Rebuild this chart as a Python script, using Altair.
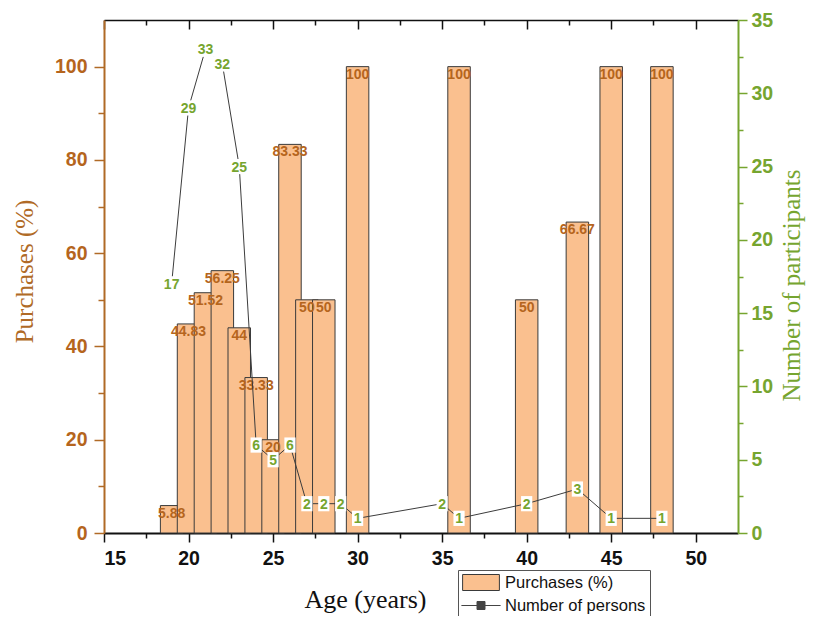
import altair as alt
import pandas as pd

# ---- data ----
bar_age = [19, 20, 21, 22, 23, 24, 25, 26, 27, 28, 30, 36, 40, 43, 45, 48]
bar_pct = [5.88, 44.83, 51.52, 56.25, 44, 33.33, 20, 83.33, 50, 50, 100, 100, 50, 66.67, 100, 100]
line_age = [19, 20, 21, 22, 23, 24, 25, 26, 27, 28, 29, 30, 35, 36, 40, 43, 45, 48]
line_n = [17, 29, 33, 32, 25, 6, 5, 6, 2, 2, 2, 1, 2, 1, 2, 3, 1, 1]
series_names = ["Purchases (%)", "Number of persons"]
x_major = [15, 20, 25, 30, 35, 40, 45, 50]
x_minor = [17.5, 22.5, 27.5, 32.5, 37.5, 42.5, 47.5]
yl_major = [0, 20, 40, 60, 80, 100]
yl_minor = [10, 30, 50, 70, 90]
yr_major = [0, 5, 10, 15, 20, 25, 30, 35]
yr_minor = [2.5, 7.5, 12.5, 17.5, 22.5, 27.5, 32.5]

bar_df = pd.DataFrame({"age": bar_age, "pct": bar_pct})
line_df = pd.DataFrame({"age": line_age, "n": line_n})
legend_df = pd.DataFrame({"series": series_names})

# ---- styles ----
W, H = 634, 513
BW = 1.33
BROWN = "#B06A26"
BROWN_TXT = "#B5651D"
GREEN = "#76A52F"
PEACH = "#FAC08F"
BAR_EDGE = "#3A3A3A"
LINE_COL = "#3C3C3C"
SANS = "Liberation Sans"
SERIF = "Liberation Serif"

xs = alt.Scale(domain=[15, 52.5], nice=False, zero=False)
ysl = alt.Scale(domain=[0, 110], nice=False, zero=False)
ysr = alt.Scale(domain=[0, 35], nice=False, zero=False)
fill_s = alt.Scale(domain=series_names, range=[PEACH, "#444444"])
stroke_s = alt.Scale(domain=series_names, range=[BAR_EDGE, "#444444"])
shape_s = alt.Scale(domain=series_names, range=["M-2.3,-1H2.3V1H-2.3Z",
                                                "M-2.45,0H2.45M-0.5,-0.5H0.5V0.5H-0.5Z"])

leg = alt.Legend(
    title=None, orient="none", legendX=354, legendY=550, direction="vertical",
    strokeColor="#555555", fillColor="white", padding=4,
    symbolSize=256, symbolOffset=10.5, labelOffset=15.5,
    labelFont=SANS, labelFontSize=16.5, labelColor="#111111", rowPadding=4,
    symbolStrokeWidth=1, symbolOpacity=1,
)

x_bottom_major = alt.Axis(
    orient="bottom", values=x_major, grid=False, domainColor="#111111", domainWidth=2,
    tickColor="#111111", tickSize=9, tickWidth=1.5, labelFont=SANS, labelFontWeight="bold",
    labelFontSize=19.5, labelColor="#111111", labelPadding=7,
    title="Age (years)", titleFont=SERIF, titleFontWeight="normal", titleFontSize=26,
    titleColor="#111111", titleX=261, titleY=74, titleBaseline="alphabetic", titleAlign="center",
)
x_bottom_minor = alt.Axis(orient="bottom", values=x_minor, grid=False, domain=False, labels=False,
                          tickColor="#111111", tickSize=5, tickWidth=1.5, title=None)
x_top_major = alt.Axis(orient="bottom", offset=-H, values=x_major, grid=False, domainColor="#111111",
                       domainWidth=1.5, labels=False, tickColor="#111111", tickSize=9, tickWidth=1.5, title=None)
x_top_minor = alt.Axis(orient="bottom", offset=-H, values=x_minor, grid=False, domain=False, labels=False,
                       tickColor="#111111", tickSize=5, tickWidth=1.5, title=None)

yl_axis = alt.Axis(
    orient="left", values=yl_major, grid=False, domainColor=BROWN, domainWidth=2,
    tickColor=BROWN, tickSize=10, tickWidth=1.5, labelFont=SANS, labelFontWeight="bold",
    labelFontSize=19.5, labelColor=BROWN_TXT, labelPadding=7,
    title="Purchases (%)", titleFont=SERIF, titleFontWeight="normal", titleFontSize=25,
    titleColor=BROWN, titleX=-67, titleY=251, titleBaseline="bottom", titleAlign="center",
)
yl_minor_axis = alt.Axis(orient="left", values=yl_minor, grid=False, domain=False, labels=False,
                         tickColor=BROWN, tickSize=6, tickWidth=1.5, title=None)
yr_axis = alt.Axis(
    orient="right", values=yr_major, grid=False, domainColor=GREEN, domainWidth=2,
    tickColor=GREEN, tickSize=9, tickWidth=1.5, labelFont=SANS, labelFontWeight="bold",
    labelFontSize=19.5, labelColor=GREEN, labelPadding=4,
    title="Number of participants", titleFont=SERIF, titleFontWeight="normal", titleFontSize=25,
    titleColor=GREEN, titleAngle=270, titleX=66, titleY=265, titleBaseline="bottom", titleAlign="center",
)
yr_minor_axis = alt.Axis(orient="right", values=yr_minor, grid=False, domain=False, labels=False,
                         tickColor=GREEN, tickSize=5, tickWidth=1.5, title=None)

# ---- legend carrier (draws no marks; built from the series names) ----
legend_layer = alt.Chart(legend_df).transform_filter("false").mark_point(
    filled=True, size=256, opacity=1
).encode(
    fill=alt.Fill("series:N", scale=fill_s, legend=leg),
    stroke=alt.Stroke("series:N", scale=stroke_s, legend=leg),
    shape=alt.Shape("series:N", scale=shape_s, legend=leg),
)

# ---- left (bars) ----
base_bar = alt.Chart(bar_df)
bars = base_bar.transform_calculate(
    x0=f"datum.age - {BW / 2}", x1=f"datum.age + {BW / 2}"
).mark_rect(fill=PEACH, stroke=BAR_EDGE, strokeWidth=1).encode(
    x=alt.X("x0:Q", scale=xs, axis=x_bottom_major),
    x2="x1:Q",
    y=alt.Y("pct:Q", scale=ysl, axis=yl_axis),
    y2=alt.datum(0),
)
bar_labels = base_bar.transform_calculate(lbl="toString(datum.pct)").mark_text(
    font=SANS, fontWeight="bold", fontSize=14, color=BROWN_TXT, baseline="top", dy=1
).encode(
    x=alt.X("age:Q", scale=xs, axis=None),
    y=alt.Y("pct:Q", scale=ysl, axis=None),
    text="lbl:N",
)
minor_bl = base_bar.mark_point(opacity=0).encode(
    x=alt.X("age:Q", scale=xs, axis=x_bottom_minor),
    y=alt.Y("pct:Q", scale=ysl, axis=yl_minor_axis),
)
top_major = base_bar.mark_point(opacity=0).encode(
    x=alt.X("age:Q", scale=xs, axis=x_top_major),
    y=alt.Y("pct:Q", scale=ysl, axis=None),
)
top_minor = base_bar.mark_point(opacity=0).encode(
    x=alt.X("age:Q", scale=xs, axis=x_top_minor),
    y=alt.Y("pct:Q", scale=ysl, axis=None),
)
left = alt.layer(bars, bar_labels, minor_bl, top_major, top_minor).resolve_axis(x="independent", y="independent")

# ---- right (line) ----
base_line = alt.Chart(line_df)
line = base_line.mark_line(color=LINE_COL, strokeWidth=1).encode(
    x=alt.X("age:Q", scale=xs, axis=None),
    y=alt.Y("n:Q", scale=ysr, axis=yr_axis),
)
boxes1 = base_line.transform_filter("datum.n < 10").mark_point(
    filled=True, fill="white", opacity=1, strokeWidth=0, size=256, shape="M-0.7,-0.95H0.7V0.95H-0.7Z"
).encode(
    x=alt.X("age:Q", scale=xs, axis=None),
    y=alt.Y("n:Q", scale=ysr, axis=None),
)
boxes2 = base_line.transform_filter("datum.n >= 10").mark_point(
    filled=True, fill="white", opacity=1, strokeWidth=0, size=256, shape="M-1.25,-0.95H1.25V0.95H-1.25Z"
).encode(
    x=alt.X("age:Q", scale=xs, axis=None),
    y=alt.Y("n:Q", scale=ysr, axis=None),
)
n_labels = base_line.mark_text(
    font=SANS, fontWeight="bold", fontSize=14, color=GREEN, baseline="middle", dy=1
).encode(
    x=alt.X("age:Q", scale=xs, axis=None),
    y=alt.Y("n:Q", scale=ysr, axis=None),
    text="n:N",
)
minor_r = base_line.mark_point(opacity=0).encode(
    x=alt.X("age:Q", scale=xs, axis=None),
    y=alt.Y("n:Q", scale=ysr, axis=yr_minor_axis),
)
right = alt.layer(line, boxes1, boxes2, n_labels, minor_r).resolve_axis(y="independent")

chart = alt.layer(legend_layer, left, right).resolve_scale(y="independent").resolve_axis(
    x="independent", y="independent"
).properties(
    width=W, height=H,
    autosize=alt.AutoSizeParams(type="none"),
    padding={"left": 96, "top": 12, "right": 70, "bottom": 83},
    background="white",
).configure_view(stroke=None)

chart.save("out.html", embed_options={"renderer": "svg", "actions": False})
